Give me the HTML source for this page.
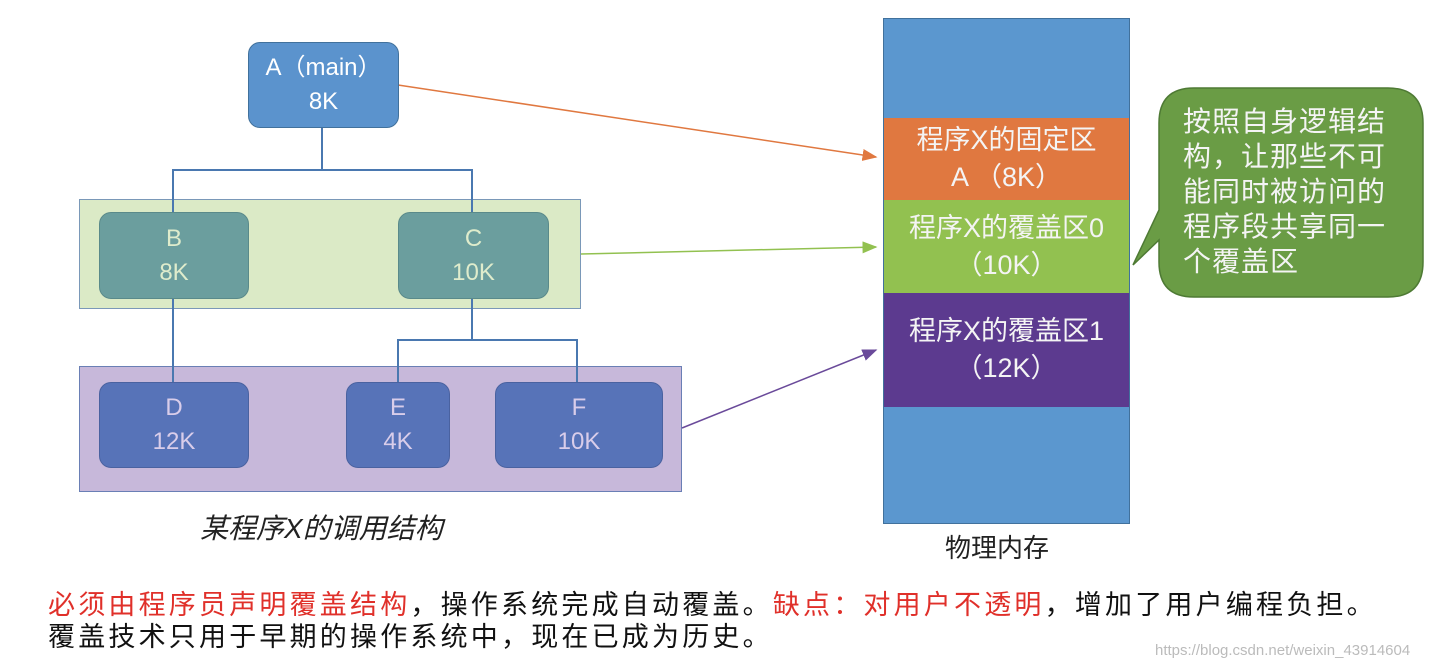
<!DOCTYPE html>
<html><head><meta charset="utf-8"><style>
body{margin:0;width:1435px;height:670px;background:#fff;position:relative;overflow:hidden;font-family:"Liberation Sans","Noto Sans CJK SC",sans-serif}
.a{position:absolute;box-sizing:border-box}
.n{display:flex;flex-direction:column;align-items:center;justify-content:center;border-radius:12px;font-size:24px;line-height:34px}
.m{display:flex;flex-direction:column;align-items:center;justify-content:center;color:#f4f4f4;font-size:27px;line-height:37px}
</style></head><body>
<div class="a" style="left:79px;top:199px;width:502px;height:110px;background:#dbeac6;border:1.5px solid #7a98b8"></div>
<div class="a" style="left:79px;top:366px;width:603px;height:126px;background:#c7b8da;border:1.5px solid #6a7fb5"></div>
<svg class="a" style="left:0;top:0" width="1435" height="670">
<defs>
<marker id="o" markerWidth="10" markerHeight="8" refX="9" refY="4" orient="auto"><path d="M0,0L10,4L0,8z" fill="#e07840"/></marker>
<marker id="g" markerWidth="10" markerHeight="8" refX="9" refY="4" orient="auto"><path d="M0,0L10,4L0,8z" fill="#92c150"/></marker>
<marker id="p" markerWidth="10" markerHeight="8" refX="9" refY="4" orient="auto"><path d="M0,0L10,4L0,8z" fill="#6a4a9a"/></marker>
</defs>
<g stroke="#4a78b0" stroke-width="2" fill="none">
<path d="M322 127V170H173V212M322 170H472V212"/>
<path d="M173 298V382"/>
<path d="M472 298V340H398V382M472 340H577V382"/>
</g>
<line x1="398" y1="85" x2="876" y2="157" stroke="#e07840" stroke-width="1.5" marker-end="url(#o)"/>
<line x1="581" y1="254" x2="876" y2="247" stroke="#92c150" stroke-width="1.5" marker-end="url(#g)"/>
<line x1="682" y1="428" x2="876" y2="350" stroke="#6a4a9a" stroke-width="1.5" marker-end="url(#p)"/>
<path d="M1194 88H1388Q1423 88 1423 123V262Q1423 297 1388 297H1194Q1159 297 1159 262V240L1133 265L1159 210V123Q1159 88 1194 88Z" fill="#6a9c45" stroke="#4e7a34" stroke-width="1.5"/>
</svg>
<div class="a n" style="left:248px;top:42px;width:151px;height:86px;background:#5b93cd;border:1.5px solid #41719c;color:#fff"><span>A（main）</span><span>8K</span></div>
<div class="a n" style="left:99px;top:212px;width:150px;height:87px;background:#6b9e9e;border:1.5px solid #5a8a8a;color:#dfeccc"><span>B</span><span>8K</span></div>
<div class="a n" style="left:398px;top:212px;width:151px;height:87px;background:#6b9e9e;border:1.5px solid #5a8a8a;color:#dfeccc"><span>C</span><span>10K</span></div>
<div class="a n" style="left:99px;top:382px;width:150px;height:86px;background:#5773b8;border:1.5px solid #4a62a0;color:#d9cdea"><span>D</span><span>12K</span></div>
<div class="a n" style="left:346px;top:382px;width:104px;height:86px;background:#5773b8;border:1.5px solid #4a62a0;color:#d9cdea"><span>E</span><span>4K</span></div>
<div class="a n" style="left:495px;top:382px;width:168px;height:86px;background:#5773b8;border:1.5px solid #4a62a0;color:#d9cdea"><span>F</span><span>10K</span></div>
<div class="a" style="left:200px;top:507px;font-size:28px;font-style:italic;color:#222">某程序X的调用结构</div>
<div class="a" style="left:883px;top:18px;width:247px;height:506px;background:#5b97cf;border:1px solid #41719c"></div>
<div class="a m" style="left:884px;top:118px;width:245px;height:82px;background:#e07840">程序X的固定区<span>A （8K）</span></div>
<div class="a m" style="left:884px;top:200px;width:245px;height:93px;background:#92c150">程序X的覆盖区0<span>（10K）</span></div>
<div class="a m" style="left:884px;top:293px;width:245px;height:114px;background:#5c3a8f">程序X的覆盖区1<span>（12K）</span></div>
<div class="a" style="left:945px;top:528px;font-size:26px;color:#222">物理内存</div>
<div class="a" style="left:1183px;top:104px;width:220px;font-size:28px;line-height:35px;color:#f4f4f4;letter-spacing:1px">按照自身逻辑结构，让那些不可能同时被访问的程序段共享同一个覆盖区</div>
<div class="a" style="left:48px;top:589px;font-size:27px;line-height:32px;letter-spacing:3.2px;color:#111;white-space:nowrap"><span style="color:#e0302a">必须由程序员声明覆盖结构</span>，操作系统完成自动覆盖。<span style="color:#e0302a">缺点：对用户不透明</span>，增加了用户编程负担。<br>覆盖技术只用于早期的操作系统中，现在已成为历史。</div>
<div class="a" style="left:1155px;top:642px;font-size:15px;color:#bbb">https://blog.csdn.net/weixin_43914604</div>
</body></html>
